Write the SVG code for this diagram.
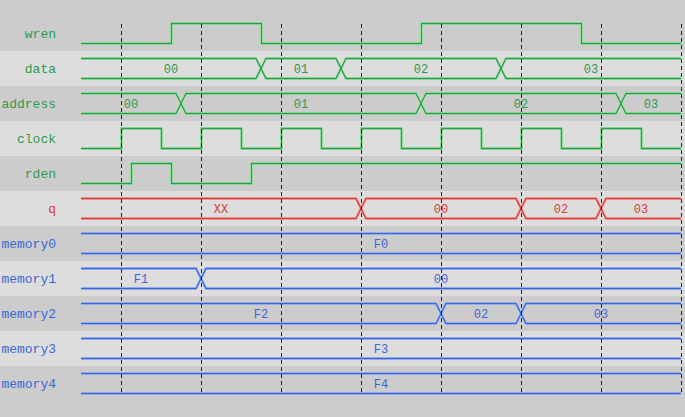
<svg xmlns="http://www.w3.org/2000/svg" width="685" height="417" viewBox="0 0 685 417">
<style>
.lbl{font-family:"Liberation Mono","Courier New",monospace;font-size:13px;text-anchor:end}
.val{font-family:"Liberation Mono","Courier New",monospace;font-size:12px;text-anchor:middle}
.g{fill:#2e9a4e}.r{fill:#d93a3a}.b{fill:#3a66d8}
.sg,.sr,.sb,.hg,.hr,.hb{fill:none;stroke-linejoin:miter}
.hg{stroke:#a8e6b0;stroke-width:3}.sg{stroke:#2e9a4e;stroke-width:1.3}
.hr{stroke:#f2b0b0;stroke-width:3}.sr{stroke:#d93a3a;stroke-width:1.3}
.hb{stroke:#b0c2f2;stroke-width:3}.sb{stroke:#3a66d8;stroke-width:1.3}
.dash{stroke:#222;stroke-width:1;stroke-dasharray:4,3}
</style>
<rect width="685" height="417" fill="#cccccc"/>
<g id="bands" fill="#dddddd">
<rect x="0" y="51" width="685" height="35"/>
<rect x="0" y="121" width="685" height="35"/>
<rect x="0" y="191" width="685" height="35"/>
<rect x="0" y="261" width="685" height="35"/>
<rect x="0" y="331" width="685" height="35"/>
</g>
<g id="wren">
<text class="lbl g" x="56" y="38">wren</text>
<path class="hg" d="M81,43.5H171.5V23.5H261.5V43.5H421.5V23.5H581.5V43.5H681"/>
<path class="sg" d="M81,43.5H171.5V23.5H261.5V43.5H421.5V23.5H581.5V43.5H681"/>
</g>
<g id="data">
<text class="lbl g" x="56" y="73">data</text>
<g class="hg"><path d="M81,58.5H256L261,68.5L256,78.5H81"/><path d="M261,68.5L266,58.5H336L341,68.5L336,78.5H266Z"/><path d="M341,68.5L346,58.5H496L501,68.5L496,78.5H346Z"/><path d="M681,58.5H506L501,68.5L506,78.5H681"/></g>
<g class="sg"><path d="M81,58.5H256L261,68.5L256,78.5H81"/><path d="M261,68.5L266,58.5H336L341,68.5L336,78.5H266Z"/><path d="M341,68.5L346,58.5H496L501,68.5L496,78.5H346Z"/><path d="M681,58.5H506L501,68.5L506,78.5H681"/></g>
<text class="val g" x="171" y="73">00</text><text class="val g" x="301" y="73">01</text><text class="val g" x="421" y="73">02</text><text class="val g" x="591" y="73">03</text>
</g>
<g id="address">
<text class="lbl g" x="56" y="108">address</text>
<g class="hg"><path d="M81,93.5H176L181,103.5L176,113.5H81"/><path d="M181,103.5L186,93.5H416L421,103.5L416,113.5H186Z"/><path d="M421,103.5L426,93.5H616L621,103.5L616,113.5H426Z"/><path d="M681,93.5H626L621,103.5L626,113.5H681"/></g>
<g class="sg"><path d="M81,93.5H176L181,103.5L176,113.5H81"/><path d="M181,103.5L186,93.5H416L421,103.5L416,113.5H186Z"/><path d="M421,103.5L426,93.5H616L621,103.5L616,113.5H426Z"/><path d="M681,93.5H626L621,103.5L626,113.5H681"/></g>
<text class="val g" x="131" y="108">00</text><text class="val g" x="301" y="108">01</text><text class="val g" x="521" y="108">02</text><text class="val g" x="651" y="108">03</text>
</g>
<g id="clock">
<text class="lbl g" x="56" y="143">clock</text>
<path class="hg" d="M81,148.5H121.5V128.5H161.5V148.5H201.5V128.5H241.5V148.5H281.5V128.5H321.5V148.5H361.5V128.5H401.5V148.5H441.5V128.5H481.5V148.5H521.5V128.5H561.5V148.5H601.5V128.5H641.5V148.5H681"/>
<path class="sg" d="M81,148.5H121.5V128.5H161.5V148.5H201.5V128.5H241.5V148.5H281.5V128.5H321.5V148.5H361.5V128.5H401.5V148.5H441.5V128.5H481.5V148.5H521.5V128.5H561.5V148.5H601.5V128.5H641.5V148.5H681"/>
</g>
<g id="rden">
<text class="lbl g" x="56" y="178">rden</text>
<path class="hg" d="M81,183.5H131.5V163.5H171.5V183.5H251.5V163.5H681"/>
<path class="sg" d="M81,183.5H131.5V163.5H171.5V183.5H251.5V163.5H681"/>
</g>
<g id="q">
<text class="lbl r" x="56" y="213">q</text>
<g class="hr"><path d="M81,198.5H356L361,208.5L356,218.5H81"/><path d="M361,208.5L366,198.5H516L521,208.5L516,218.5H366Z"/><path d="M521,208.5L526,198.5H596L601,208.5L596,218.5H526Z"/><path d="M681,198.5H606L601,208.5L606,218.5H681"/></g>
<g class="sr"><path d="M81,198.5H356L361,208.5L356,218.5H81"/><path d="M361,208.5L366,198.5H516L521,208.5L516,218.5H366Z"/><path d="M521,208.5L526,198.5H596L601,208.5L596,218.5H526Z"/><path d="M681,198.5H606L601,208.5L606,218.5H681"/></g>
<text class="val r" x="221" y="213">XX</text><text class="val r" x="441" y="213">00</text><text class="val r" x="561" y="213">02</text><text class="val r" x="641" y="213">03</text>
</g>
<g id="memory0">
<text class="lbl b" x="56" y="248">memory0</text>
<path class="hb" d="M81,233.5H681M81,253.5H681"/><path class="sb" d="M81,233.5H681M81,253.5H681"/>
<text class="val b" x="381" y="248">F0</text>
</g>
<g id="memory1">
<text class="lbl b" x="56" y="283">memory1</text>
<g class="hb"><path d="M81,268.5H196L201,278.5L196,288.5H81"/><path d="M681,268.5H206L201,278.5L206,288.5H681"/></g>
<g class="sb"><path d="M81,268.5H196L201,278.5L196,288.5H81"/><path d="M681,268.5H206L201,278.5L206,288.5H681"/></g>
<text class="val b" x="141" y="283">F1</text><text class="val b" x="441" y="283">00</text>
</g>
<g id="memory2">
<text class="lbl b" x="56" y="318">memory2</text>
<g class="hb"><path d="M81,303.5H436L441,313.5L436,323.5H81"/><path d="M441,313.5L446,303.5H516L521,313.5L516,323.5H446Z"/><path d="M681,303.5H526L521,313.5L526,323.5H681"/></g>
<g class="sb"><path d="M81,303.5H436L441,313.5L436,323.5H81"/><path d="M441,313.5L446,303.5H516L521,313.5L516,323.5H446Z"/><path d="M681,303.5H526L521,313.5L526,323.5H681"/></g>
<text class="val b" x="261" y="318">F2</text><text class="val b" x="481" y="318">02</text><text class="val b" x="601" y="318">03</text>
</g>
<g id="memory3">
<text class="lbl b" x="56" y="353">memory3</text>
<path class="hb" d="M81,338.5H681M81,358.5H681"/><path class="sb" d="M81,338.5H681M81,358.5H681"/>
<text class="val b" x="381" y="353">F3</text>
</g>
<g id="memory4">
<text class="lbl b" x="56" y="388">memory4</text>
<path class="hb" d="M81,373.5H681M81,393.5H681"/><path class="sb" d="M81,373.5H681M81,393.5H681"/>
<text class="val b" x="381" y="388">F4</text>
</g>
<g id="connectors" class="dash">
<path d="M121.5,24V393M201.5,24V393M281.5,24V393M361.5,24V393M441.5,24V393M521.5,24V393M601.5,24V393M681.5,24V393"/>
</g>
</svg>
